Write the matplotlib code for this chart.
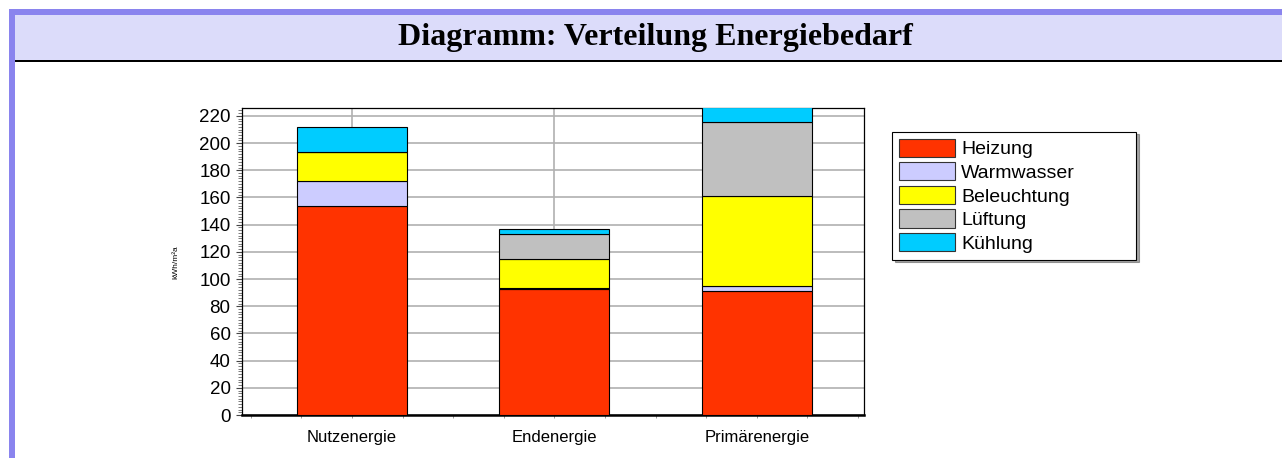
import matplotlib
matplotlib.use('Agg')
import matplotlib.pyplot as plt
from matplotlib.patches import Rectangle, Patch
from matplotlib.ticker import MultipleLocator, FixedLocator
import numpy as np

# data (kWh/m²a)
categories = ['Nutzenergie', 'Endenergie', 'Primärenergie']
heizung = [154, 92.5, 91.5]
warmwasser = [18, 0.7, 3.3]
beleuchtung = [21.5, 21.5, 66.5]
lueftung = [0, 18.3, 54]
kuehlung = [18.5, 3.7, 11]
series_names = ['Heizung', 'Warmwasser', 'Beleuchtung', 'Lüftung', 'Kühlung']
colors = ['#FF3300', '#CCCCFF', '#FFFF00', '#C0C0C0', '#00CCFF']

W, H = 1282, 458
plt.rcParams['font.family'] = ['Liberation Sans', 'DejaVu Sans']

fig = plt.figure(figsize=(W / 100, H / 100), dpi=100)

def px_rect(x0, y0, x1, y1, color):
    # rectangle in pixel coordinates measured from top-left
    fig.patches.append(Rectangle((x0 / W, 1 - y1 / H), (x1 - x0) / W, (y1 - y0) / H,
                                 transform=fig.transFigure, color=color, lw=0, zorder=0))

# header band and frame
px_rect(9, 9, W, 15, '#8A84EE')
px_rect(9, 9, 15, H, '#8A84EE')
px_rect(15, 15, W, 60, '#DCDCFA')
px_rect(15, 60, W, 62, '#000000')
fig.text(655 / W, 1 - 37 / H, 'Diagramm: Verteilung Energiebedarf', ha='center', va='center',
         family='Liberation Serif', fontweight='bold', fontsize=23)

ax = fig.add_axes([241.7 / W, 1 - 415 / H, (864 - 241.7) / W, (415 - 108.3) / H])

x = np.arange(len(categories))
bottom = np.zeros(len(categories))
for name, vals, c in zip(series_names, [heizung, warmwasser, beleuchtung, lueftung, kuehlung], colors):
    ax.bar(x, vals, width=0.544, bottom=bottom, color=c, edgecolor='black', linewidth=0.8,
           zorder=3, label=name)
    bottom += np.array(vals)

ax.set_xlim(-0.545, 2.53)
ax.set_ylim(0, 225.6)
ax.yaxis.set_major_locator(MultipleLocator(20))
ax.yaxis.set_minor_locator(MultipleLocator(2))
ax.set_xticks(x)
ax.set_xticklabels(categories, fontsize=12)
ax.xaxis.set_minor_locator(FixedLocator(np.arange(-0.5, 2.51, 0.25)))
ax.tick_params(axis='y', which='major', labelsize=13.5, length=4, width=0.8, color='#444444', pad=4)
ax.tick_params(axis='y', which='minor', length=2.6, width=0.6, color='#666666')
ax.tick_params(axis='x', which='both', length=2.5, width=0.6, color='#888888', pad=8)

ax.grid(True, which='major', color='#B0B0B0', linewidth=1.2, zorder=0)
ax.set_axisbelow(True)
for s in ['top', 'right', 'left']:
    ax.spines[s].set_color('black')
    ax.spines[s].set_linewidth(0.9)
ax.spines['bottom'].set_linewidth(1.8)

fig.text(176 / W, 1 - 262 / H, 'kWh/m²a', rotation=90, ha='center', va='center', fontsize=6)

# legend box
handles = [Patch(facecolor=c, edgecolor='#333333', linewidth=0.8) for c in colors]
leg = fig.legend(handles, series_names, loc='upper left',
                 bbox_to_anchor=(892 / W, 1 - 260 / H, (1136 - 892) / W, (260 - 131.7) / H),
                 mode='expand', fontsize=14, handlelength=2.9, handleheight=1.07,
                 labelspacing=0.2, handletextpad=0.3, borderpad=0.35, borderaxespad=0,
                 fancybox=False, shadow=True, framealpha=1, edgecolor='black')
leg.get_frame().set_linewidth(0.8)

fig.savefig('out.png', dpi=100)
